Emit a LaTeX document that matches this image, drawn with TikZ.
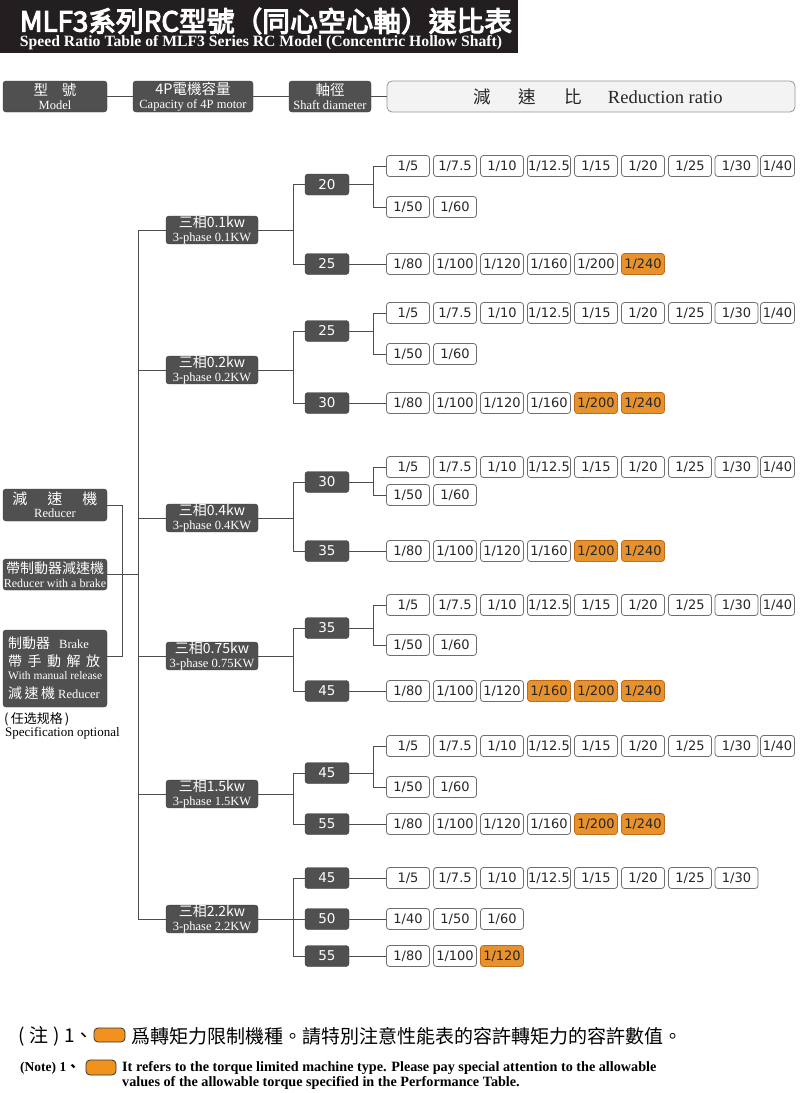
\documentclass[tikz,border=0pt]{standalone}
\usepackage{fontspec}
\usepackage{graphicx}
\setmainfont{Liberation Serif}
\newfontfamily\cjk{Noto Sans CJK TC}
\newfontfamily\cjkb[FakeBold=4]{Noto Sans CJK TC}
\newfontfamily\rfont{DejaVu Sans}
\usetikzlibrary{patterns}
\newcommand\myfs[1]{\fontsize{#1}{#1}\selectfont}
\definecolor{titlebg}{RGB}{35,31,32}
\definecolor{boxdk}{RGB}{80,80,80}
\definecolor{boxdkline}{RGB}{60,60,60}
\definecolor{linec}{RGB}{77,77,77}
\definecolor{rbline}{RGB}{110,110,110}
\definecolor{orng}{RGB}{242,146,30}
\definecolor{orngdk}{RGB}{190,100,10}
\definecolor{lightbg}{RGB}{243,243,243}
\definecolor{lightline}{RGB}{150,150,150}
\tikzset{
 ln/.style={draw=linec, line width=1pt},
 dk/.style={draw=boxdkline, fill=boxdk, rounded corners=3pt, text=white, inner sep=0pt, align=center},
 hdr/.style={dk, minimum height=31pt},
 shaftbox/.style={dk, minimum width=44pt, minimum height=21pt, font=\rfont\myfs{13.5}},
 pwr/.style={dk, minimum width=92pt, minimum height=25pt},
 leftbox/.style={dk, minimum width=104pt},
 rbox/.style={draw=rbline, line width=0.8pt, fill=white, rounded corners=3pt, minimum height=21pt, inner sep=0pt, font=\rfont\myfs{13}, text=black!85},
 obox/.style={rbox, fill=orng, draw=orngdk, postaction={pattern=north east lines, pattern color=orngdk!70}},
 wtxt/.style={text=white, inner sep=0pt},
 notebox/.style={draw=black!80, fill=orng, rounded corners=4pt, line width=0.8pt, inner sep=0pt},
}
\newcommand\pw[2]{{\cjk\myfs{14}三相#1kw}\\[1.5pt]{\myfs{12.5}3-phase #2KW}}
\newcommand\ratiorow[3]{%
 \foreach \rv/\sty [count=\i] in {#3}{%
   \pgfmathsetmacro\xx{{408,455,502,549,596,643,690,736.5,777.5}[\i-1]}%
   \pgfmathsetmacro\ww{\i==9 ? 34 : 43}%
   \node[\sty, minimum width=\ww pt] (#1-\i) at (\xx,#2) {1/\rv};
 }}
\newcommand\dbl[3]{%
 \draw[ln] (#1.east) -- (#1.east -| vR);
 \draw[ln] (#2-1.west) -- (#2-1.west -| vR) -- (#3-1.west -| vR) -- (#3-1.west);}
\begin{document}
\begin{tikzpicture}[x=1pt,y=-1pt]
\useasboundingbox (0,0) rectangle (800,1093);
\fill[white] (0,0) rectangle (800,1093);
% title
\fill[titlebg] (0,0) rectangle (518,53);
\node[text=white, inner sep=0pt] (title) at (266,21) {\resizebox{492pt}{!}{\cjkb MLF3系列RC型號（同心空心軸）速比表}};
\node[text=white, inner sep=0pt] (subtitle) at (261,42.5) {\resizebox{482pt}{!}{\bfseries Speed Ratio Table of MLF3 Series RC Model (Concentric Hollow Shaft)}};
% header
\node[hdr, minimum width=104pt] (H1) at (55,96.5) {{\cjk\myfs{14.5}型\hspace{14pt}號}\\[2.5pt]{\myfs{12.5}Model}};
\node[hdr, minimum width=120pt] (H2) at (193,96.5) {{\cjk\myfs{14.5}4P電機容量}\\[2.5pt]{\myfs{12.5}Capacity of 4P motor}};
\node[hdr, minimum width=82pt] (H3) at (330,96.5) {{\cjk\myfs{14.5}軸徑}\\[2.5pt]{\myfs{12.5}Shaft diameter}};
\node[draw=lightline, fill=lightbg, rounded corners=5pt, minimum width=408pt, minimum height=31pt, line width=0.8pt] (H4) at (591,96.5) {};
\node[inner sep=0pt, text=black!85] (H4t) at (598,97) {{\cjk\myfs{17.5}減\hspace{28pt}速\hspace{28pt}比}\hspace{26pt}{\myfs{18.5}Reduction ratio}};
\draw[ln] (H1) -- (H2);
\draw[ln] (H2) -- (H3);
\draw[ln] (H3) -- (H4);
% left boxes
\node[leftbox, minimum height=32pt] (L1) at (55,505) {{\cjk\myfs{15}減\hspace{20pt}速\hspace{20pt}機}\\[1.5pt]{\myfs{12.5}Reducer}};
\node[leftbox, minimum height=31pt] (L2) at (55,574.5) {{\cjk\myfs{14}帶制動器減速機}\\[2pt]{\myfs{12}Reducer with a brake}};
\node[leftbox, minimum height=77pt] (L3) at (55,668.5) {};
\node[wtxt, anchor=west] (L3a) at (8,643) {{\cjk\myfs{14}制動器}\hspace{9pt}{\myfs{12.5}Brake}};
\node[wtxt, anchor=west] (L3b) at (8,661) {\cjk\myfs{14}帶\hspace{5.5pt}手\hspace{5.5pt}動\hspace{5.5pt}解\hspace{5.5pt}放};
\node[wtxt, anchor=west] (L3c) at (8,676) {\myfs{11.5}With manual release};
\node[wtxt, anchor=west] (L3d) at (8,693) {{\cjk\myfs{14}減\hspace{2.5pt}速\hspace{2.5pt}機}\hspace{3pt}{\myfs{12.5}Reducer}};
\node[anchor=west, inner sep=0pt] (opt1) at (4,719) {\cjk\myfs{13}(\,任选规格\,)};
\node[anchor=west, inner sep=0pt] (opt2) at (5,733) {\myfs{13}Specification optional};
% power nodes
\node[pwr] (P1) at (212,230) {\pw{0.1}{0.1}};
\node[pwr] (P2) at (212,370) {\pw{0.2}{0.2}};
\node[pwr] (P3) at (212,518) {\pw{0.4}{0.4}};
\node[pwr] (P4) at (212,656) {\pw{0.75}{0.75}};
\node[pwr] (P5) at (212,794) {\pw{1.5}{1.5}};
\node[pwr] (P6) at (212,919) {\pw{2.2}{2.2}};
% shaft nodes
\node[shaftbox] (S1a) at (327,184.5) {20};
\node[shaftbox] (S1b) at (327,264) {25};
\node[shaftbox] (S2a) at (327,331) {25};
\node[shaftbox] (S2b) at (327,403) {30};
\node[shaftbox] (S3a) at (327,482) {30};
\node[shaftbox] (S3b) at (327,551) {35};
\node[shaftbox] (S4a) at (327,628) {35};
\node[shaftbox] (S4b) at (327,691) {45};
\node[shaftbox] (S5a) at (327,773) {45};
\node[shaftbox] (S5b) at (327,824) {55};
\node[shaftbox] (S6a) at (327,878) {45};
\node[shaftbox] (S6b) at (327,919) {50};
\node[shaftbox] (S6c) at (327,956) {55};
% ratio rows
\ratiorow{r1a}{166}{5/rbox,7.5/rbox,10/rbox,12.5/rbox,15/rbox,20/rbox,25/rbox,30/rbox,40/rbox}
\ratiorow{r1b}{207}{50/rbox,60/rbox}
\ratiorow{r1c}{264}{80/rbox,100/rbox,120/rbox,160/rbox,200/rbox,240/obox}
\ratiorow{r2a}{313}{5/rbox,7.5/rbox,10/rbox,12.5/rbox,15/rbox,20/rbox,25/rbox,30/rbox,40/rbox}
\ratiorow{r2b}{354}{50/rbox,60/rbox}
\ratiorow{r2c}{403}{80/rbox,100/rbox,120/rbox,160/rbox,200/obox,240/obox}
\ratiorow{r3a}{467}{5/rbox,7.5/rbox,10/rbox,12.5/rbox,15/rbox,20/rbox,25/rbox,30/rbox,40/rbox}
\ratiorow{r3b}{495}{50/rbox,60/rbox}
\ratiorow{r3c}{551}{80/rbox,100/rbox,120/rbox,160/rbox,200/obox,240/obox}
\ratiorow{r4a}{605}{5/rbox,7.5/rbox,10/rbox,12.5/rbox,15/rbox,20/rbox,25/rbox,30/rbox,40/rbox}
\ratiorow{r4b}{645}{50/rbox,60/rbox}
\ratiorow{r4c}{691}{80/rbox,100/rbox,120/rbox,160/obox,200/obox,240/obox}
\ratiorow{r5a}{746}{5/rbox,7.5/rbox,10/rbox,12.5/rbox,15/rbox,20/rbox,25/rbox,30/rbox,40/rbox}
\ratiorow{r5b}{787}{50/rbox,60/rbox}
\ratiorow{r5c}{824}{80/rbox,100/rbox,120/rbox,160/rbox,200/obox,240/obox}
\ratiorow{r6a}{878}{5/rbox,7.5/rbox,10/rbox,12.5/rbox,15/rbox,20/rbox,25/rbox,30/rbox}
\ratiorow{r6b}{919}{40/rbox,50/rbox,60/rbox}
\ratiorow{r6c}{956}{80/rbox,100/rbox,120/obox}
% connectors
\coordinate (vL) at (122,0);
\coordinate (tr) at (138,0);
\coordinate (br) at (293,0);
\coordinate (vR) at (373,0);
\coordinate (L3e) at ([yshift=12.5pt]L3.east);
\draw[ln] (L1.east) -- (L1.east -| vL) -- (L3e -| vL) -- (L3e);
\draw[ln] (L2.east) -- (L2.east -| tr);
\draw[ln] (P1.west) -- (P1.west -| tr) -- (P6.west -| tr) -- (P6.west);
\foreach \p in {P2,P3,P4,P5} \draw[ln] (\p.west) -- (\p.west -| tr);
\foreach \g in {1,2,3,4,5}{
 \draw[ln] (S\g a.west) -- (S\g a.west -| br) -- (S\g b.west -| br) -- (S\g b.west);
 \draw[ln] (P\g.east) -- (P\g.east -| br);
 \draw[ln] (S\g b.east) -- (r\g c-1.west);
}
\draw[ln] (S6a.west) -- (S6a.west -| br) -- (S6c.west -| br) -- (S6c.west);
\draw[ln] (P6.east) -- (S6b.west);
\draw[ln] (S6a.east) -- (r6a-1.west);
\draw[ln] (S6b.east) -- (r6b-1.west);
\draw[ln] (S6c.east) -- (r6c-1.west);
\dbl{S1a}{r1a}{r1b}
\dbl{S2a}{r2a}{r2b}
\dbl{S3a}{r3a}{r3b}
\dbl{S4a}{r4a}{r4b}
\dbl{S5a}{r5a}{r5b}
% footer
\node[anchor=west, inner sep=0pt] (n1) at (18,1036) {\cjk\myfs{19}(\hspace{5pt}注\hspace{5pt})\hspace{4pt}1、};
\node[notebox, minimum width=31pt, minimum height=14pt] (ob1) at (109.5,1035) {};
\node[anchor=west, inner sep=0pt] (n2) at (131,1036) {\cjk\myfs{19}爲轉矩力限制機種。請特別注意性能表的容許轉矩力的容許數值。};
\node[anchor=west, inner sep=0pt] (e1) at (20,1068) {\bfseries\myfs{13.5}(Note) 1{\cjk 、}};
\node[notebox, minimum width=30pt, minimum height=15pt] (ob2) at (101,1067.5) {};
\node[anchor=north west, inner sep=0pt, align=left, font=\bfseries\fontsize{14.2}{15}\selectfont] (e2) at (122,1061) {It refers to the torque limited machine type. Please pay special attention to the allowable\\values of the allowable torque specified in the Performance Table.};
\end{tikzpicture}
\end{document}
